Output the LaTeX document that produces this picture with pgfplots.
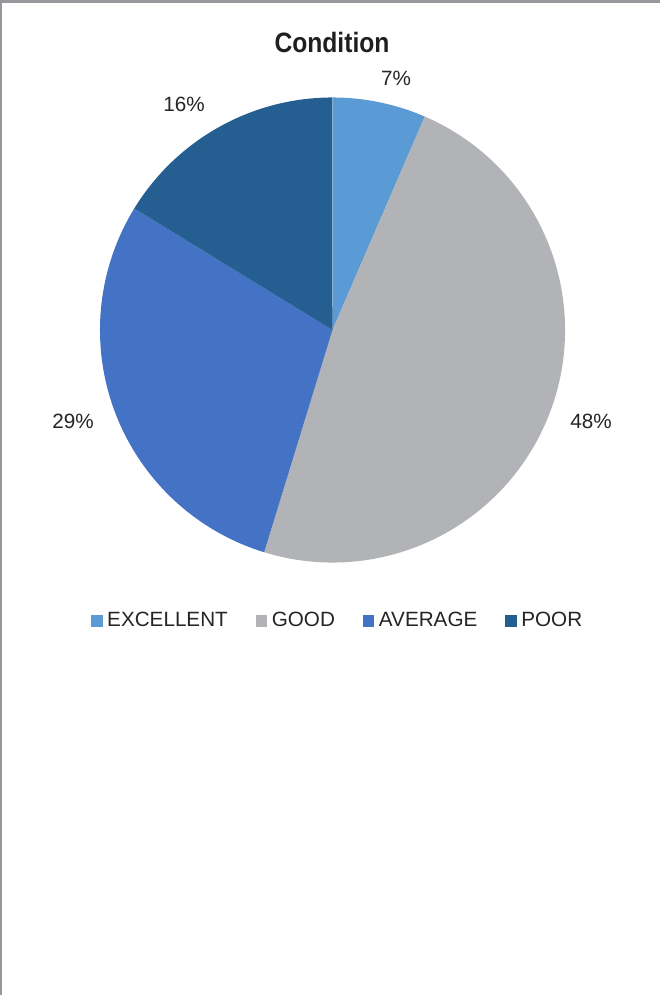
\documentclass[border=0pt]{standalone}
\usepackage{pgfplots}
\pgfplotsset{compat=1.18}
\usepackage{pgfplotstable}
\usepackage{fontspec}
\setmainfont{Liberation Sans}
\newfontfamily\titlefont[FakeStretch=0.88]{Liberation Sans}
\definecolor{cExc}{HTML}{5B9BD5}
\definecolor{cGood}{HTML}{B2B3B7}
\definecolor{cAvg}{HTML}{4472C4}
\definecolor{cPoor}{HTML}{255E91}
\definecolor{frame}{RGB}{152,152,156}
\definecolor{txt}{HTML}{252525}
\pgfplotstableread{
label value
EXCELLENT 6.5
GOOD 48.25
AVERAGE 29
POOR 16.25
}\piedata
\begin{document}
\begin{tikzpicture}
\pgfplotstablegetelem{0}{value}\of\piedata \let\vA\pgfplotsretval
\pgfplotstablegetelem{1}{value}\of\piedata \let\vB\pgfplotsretval
\pgfplotstablegetelem{2}{value}\of\piedata \let\vC\pgfplotsretval
\pgfplotstablegetelem{3}{value}\of\piedata \let\vD\pgfplotsretval
\pgfmathsetmacro\tot{\vA+\vB+\vC+\vD}
\pgfmathsetmacro\aA{90}
\pgfmathsetmacro\aB{\aA-3.6*(\vA/\tot)*100}
\pgfmathsetmacro\aC{\aB-3.6*(\vB/\tot)*100}
\pgfmathsetmacro\aD{\aC-3.6*(\vC/\tot)*100}
\pgfmathsetmacro\aE{\aD-3.6*(\vD/\tot)*100}
\def\R{174.4pt}
\begin{axis}[
  scale only axis, width=495pt, height=746.25pt,
  xmin=0, xmax=660, ymin=0, ymax=995,
  hide axis, clip=false,
  legend columns=4,
  legend style={at={(axis cs:336.6,374.5)}, anchor=center, draw=none, fill=none,
    inner sep=0pt, font=\fontsize{15.5pt}{18pt}\selectfont, text=txt,
    nodes={inner sep=0pt, anchor=west},
    /tikz/every odd column/.append style={column sep=3.8pt},
    /tikz/every even column/.append style={column sep=20.8pt}},
  legend image code/.code={\fill[#1] (0pt,-4pt) rectangle (8pt,4pt);},
]
\path (axis cs:0,0) rectangle (axis cs:660,995);
\fill[cExc]  (axis cs:332.5,665) -- ++(\aA:\R) arc[start angle=\aA, end angle=\aB, radius=\R] -- cycle;
\fill[cGood] (axis cs:332.5,665) -- ++(\aB:\R) arc[start angle=\aB, end angle=\aC, radius=\R] -- cycle;
\fill[cAvg]  (axis cs:332.5,665) -- ++(\aC:\R) arc[start angle=\aC, end angle=\aD, radius=\R] -- cycle;
\fill[cPoor] (axis cs:332.5,665) -- ++(\aD:\R) arc[start angle=\aD, end angle=\aE, radius=\R] -- cycle;
\addlegendimage{cExc}\addlegendentry{EXCELLENT}
\addlegendimage{cGood}\addlegendentry{GOOD}
\addlegendimage{cAvg}\addlegendentry{AVERAGE}
\addlegendimage{cPoor}\addlegendentry{POOR}
% labels
\node[anchor=base, text=txt, font=\fontsize{15.5pt}{18pt}\selectfont] at (axis cs:396,909) {7\%};
\node[anchor=base, text=txt, font=\fontsize{15.5pt}{18pt}\selectfont] at (axis cs:591,566) {48\%};
\node[anchor=base, text=txt, font=\fontsize{15.5pt}{18pt}\selectfont] at (axis cs:73,566) {29\%};
\node[anchor=base, text=txt, font=\fontsize{15.5pt}{18pt}\selectfont] at (axis cs:184,883.3) {16\%};
% title
\node[anchor=base, text=black!88, font=\titlefont\bfseries\fontsize{21pt}{24pt}\selectfont] at (axis cs:332,942.5) {Condition};
% frame
\fill[frame] (axis cs:0,995) rectangle (axis cs:660,991.5);
\fill[frame] (axis cs:0,0) rectangle (axis cs:2.3,995);
\end{axis}
\end{tikzpicture}
\end{document}
